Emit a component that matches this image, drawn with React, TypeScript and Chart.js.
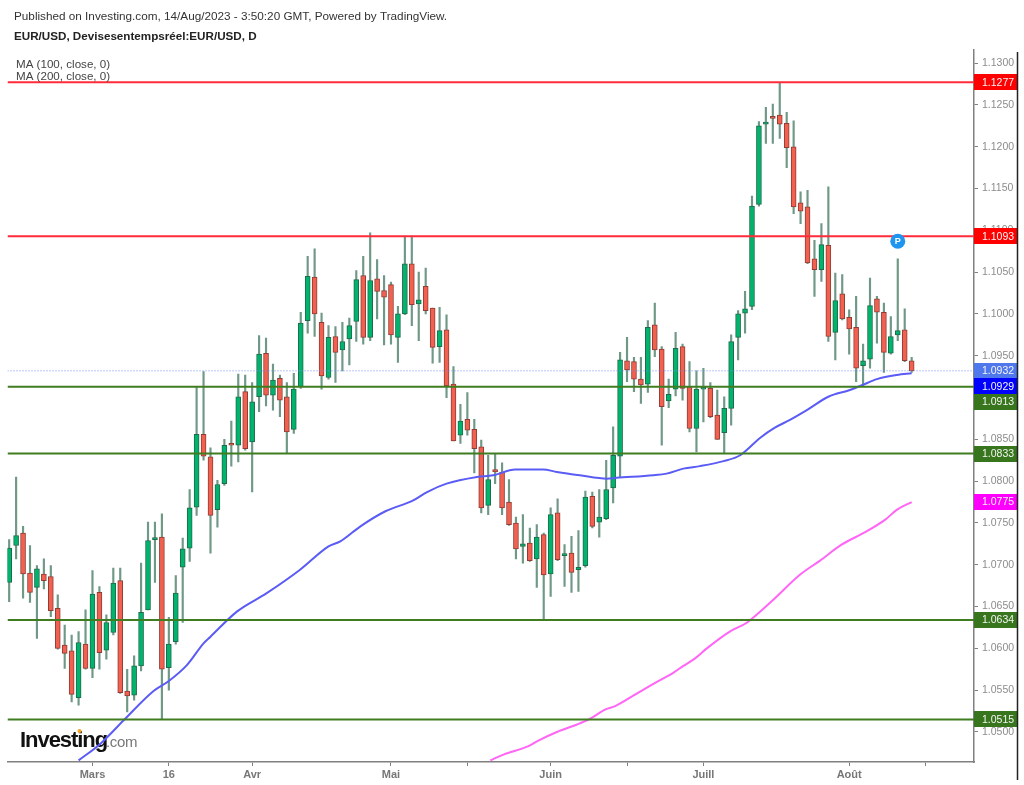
import React, { useEffect, useRef } from "react";
import { Chart, registerables } from "chart.js";

Chart.register(...registerables);

const opens = [1.0679,1.0723,1.0738,1.0690,1.0673,1.0689,1.0686,1.0648,1.0604,1.0597,1.0541,1.0605,1.0576,1.0667,1.0598,1.0619,1.0681,1.0549,1.0544,1.0579,1.0646,1.0730,1.0733,1.0577,1.0608,1.0697,1.0720,1.0769,1.0856,1.0829,1.0766,1.0797,1.0844,1.0843,1.0907,1.0847,1.0901,1.0953,1.0903,1.0923,1.0901,1.0862,1.0913,1.0992,1.1044,1.0990,1.0924,1.0973,1.0957,1.0970,1.0991,1.1046,1.0972,1.1042,1.1028,1.1035,1.0972,1.1000,1.1060,1.1012,1.1033,1.1007,1.0961,1.0981,1.0916,1.0855,1.0874,1.0862,1.0841,1.0771,1.0814,1.0811,1.0775,1.0750,1.0722,1.0726,1.0707,1.0736,1.0689,1.0762,1.0711,1.0714,1.0694,1.0699,1.0782,1.0751,1.0755,1.0792,1.0830,1.0944,1.0943,1.0922,1.0916,1.0987,1.0958,1.0896,1.0910,1.0961,1.0913,1.0863,1.0910,1.0911,1.0879,1.0858,1.0887,1.0972,1.1001,1.1009,1.1131,1.1227,1.1236,1.1238,1.1228,1.1200,1.1133,1.1128,1.1066,1.1053,1.1082,1.0978,1.1024,1.0996,1.0984,1.0938,1.0946,1.1018,1.1002,1.0953,1.0975,1.0981,1.0944];
const highs = [1.0730,1.0805,1.0746,1.0723,1.0699,1.0707,1.0699,1.0664,1.0628,1.0616,1.0620,1.0646,1.0693,1.0674,1.0640,1.0696,1.0696,1.0575,1.0591,1.0702,1.0751,1.0751,1.0761,1.0637,1.0687,1.0732,1.0790,1.0913,1.0931,1.0840,1.0801,1.0850,1.0872,1.0928,1.0927,1.0918,1.0974,1.0971,1.0940,1.0927,1.0918,1.0929,1.1002,1.1069,1.1078,1.1001,1.0986,1.0985,1.0990,1.0995,1.1052,1.1069,1.1097,1.1065,1.1046,1.1038,1.1009,1.1093,1.1093,1.1050,1.1055,1.1007,1.1008,1.0999,1.0937,1.0892,1.0906,1.0874,1.0849,1.0831,1.0832,1.0822,1.0802,1.0757,1.0760,1.0744,1.0748,1.0738,1.0768,1.0779,1.0724,1.0734,1.0741,1.0788,1.0787,1.0790,1.0825,1.0865,1.0954,1.0972,1.0948,1.0948,1.0992,1.1013,1.0961,1.0922,1.0978,1.0964,1.0943,1.0932,1.0935,1.0918,1.0909,1.0901,1.0975,1.1004,1.1027,1.1141,1.1230,1.1247,1.1251,1.1277,1.1241,1.1231,1.1146,1.1148,1.1088,1.1108,1.1152,1.1049,1.1047,1.1005,1.1021,1.0964,1.1043,1.1021,1.1013,1.0997,1.1066,1.1006,1.0948];
const lows = [1.0656,1.0707,1.0660,1.0655,1.0612,1.0671,1.0638,1.0599,1.0576,1.0536,1.0532,1.0575,1.0565,1.0575,1.0587,1.0616,1.0546,1.0524,1.0538,1.0573,1.0646,1.0679,1.0515,1.0550,1.0605,1.0631,1.0704,1.0759,1.0825,1.0714,1.0745,1.0795,1.0818,1.0823,1.0837,1.0787,1.0883,1.0890,1.0885,1.0877,1.0833,1.0857,1.0911,1.0977,1.0973,1.0910,1.0922,1.0918,1.0932,1.0939,1.0967,1.0964,1.0968,1.0994,1.0963,1.0964,1.0942,1.0999,1.0986,1.0968,1.1000,1.0941,1.0942,1.0900,1.0848,1.0845,1.0855,1.0810,1.0762,1.0760,1.0797,1.0760,1.0747,1.0707,1.0702,1.0704,1.0673,1.0635,1.0662,1.0705,1.0674,1.0667,1.0668,1.0697,1.0744,1.0733,1.0754,1.0774,1.0805,1.0919,1.0907,1.0893,1.0906,1.0949,1.0843,1.0888,1.0902,1.0897,1.0859,1.0835,1.0871,1.0876,1.0850,1.0833,1.0867,1.0945,1.0977,1.1005,1.1129,1.1204,1.1204,1.1210,1.1175,1.1120,1.1108,1.1060,1.1021,1.1039,1.0967,1.0945,1.0993,1.0952,1.0919,1.0914,1.0935,1.0965,1.0930,1.0952,1.0968,1.0943,1.0930];
const closes = [1.0720,1.0735,1.0689,1.0667,1.0695,1.0681,1.0645,1.0600,1.0594,1.0545,1.0607,1.0576,1.0665,1.0595,1.0631,1.0678,1.0547,1.0543,1.0579,1.0643,1.0729,1.0732,1.0575,1.0605,1.0666,1.0719,1.0768,1.0856,1.0830,1.0759,1.0796,1.0843,1.0843,1.0901,1.0839,1.0895,1.0952,1.0903,1.0921,1.0897,1.0859,1.0910,1.0989,1.1045,1.1000,1.0926,1.0972,1.0954,1.0967,1.0986,1.1041,1.0972,1.1040,1.1027,1.1020,1.0975,1.1000,1.1060,1.1011,1.1017,1.1004,1.0960,1.0980,1.0914,1.0848,1.0872,1.0861,1.0839,1.0768,1.0802,1.0811,1.0768,1.0748,1.0719,1.0725,1.0705,1.0733,1.0688,1.0760,1.0706,1.0712,1.0691,1.0697,1.0781,1.0746,1.0757,1.0790,1.0831,1.0945,1.0933,1.0922,1.0915,1.0984,1.0957,1.0889,1.0904,1.0959,1.0911,1.0863,1.0910,1.0911,1.0877,1.0850,1.0887,1.0967,1.1000,1.1006,1.1129,1.1225,1.1228,1.1234,1.1227,1.1199,1.1128,1.1123,1.1061,1.1053,1.1083,1.0973,1.1016,1.0994,1.0982,1.0935,1.0944,1.1010,1.1002,1.0954,1.0973,1.0980,1.0944,1.0932];

const ma100Index = [10,13.15,16.5,20.8,23,25.6,28,29,32.8,37.1,41.9,46,47.7,50.6,54.2,58.2,60.2,63,67.4,69.7,72.9,76.9,78.9,82.2,86.1,87.5,92.8,94.7,97.1,99.5,102.9,105.3,108.2,110.3,112.4,114.9,118,121.1,122.9,125,127.9,130];
const ma100Values = [1.0466,1.0486,1.0514,1.0549,1.0561,1.0580,1.0606,1.0614,1.0644,1.0666,1.0694,1.0722,1.0728,1.0746,1.0764,1.0777,1.0787,1.0797,1.0805,1.0807,1.0814,1.0814,1.0811,1.0807,1.0803,1.0804,1.0807,1.0809,1.0815,1.0818,1.0824,1.0831,1.0852,1.0864,1.0873,1.0885,1.0901,1.0909,1.0915,1.0922,1.0927,1.0929];
const ma200Index = [69.3,71.2,74.8,76.3,78.9,81.8,83.7,85.9,87.3,90.4,93.3,95.7,97.1,98.8,100.5,103.8,106.3,108.6,110.3,113.9,116.8,119.9,123.3,126.2,127.9,130];
const ma200Values = [1.0466,1.0473,1.0483,1.0490,1.0500,1.0509,1.0516,1.0527,1.0531,1.0546,1.0560,1.0571,1.0579,1.0588,1.0600,1.0620,1.0631,1.0647,1.0660,1.0688,1.0705,1.0724,1.0739,1.0754,1.0766,1.0775];

const redLevels = [1.1277, 1.1093];
const greenLevels = [1.0913, 1.0833, 1.0634, 1.0515];
const lastPrice = 1.0932;
const ma100Last = 1.0929;
const ma200Last = 1.0775;

const pivotIndex = 128;
const pivotPrice = 1.1087;

const priceTicks = [1.05,1.055,1.06,1.065,1.07,1.075,1.08,1.085,1.09,1.095,1.1,1.105,1.11,1.115,1.12,1.125,1.13];
const timeTicks = [12,23,35,55,66,78,89,100,121,132];
const timeLabels = ["Mars","16","Avr","Mai","","Juin","","Juill","Août",""];

const xMin = -0.24;
const xMax = 138.98;
const yMin = 1.04641;
const yMax = 1.13157;

const FONT = '"Liberation Sans", Arial, sans-serif';

const overlay = {
  id: "overlay",
  beforeDatasetsDraw(chart: any) {
    const c = chart.ctx;
    c.save();
    c.textBaseline = "alphabetic";
    c.textAlign = "left";
    c.fillStyle = "#111";
    c.font = `bold 22px ${FONT}`;
    (c as any).letterSpacing = "-1.05px";
    c.fillText("Investing", 20, 747);
    c.fillStyle = "#777";
    c.font = `15px ${FONT}`;
    (c as any).letterSpacing = "-0.3px";
    c.fillText(".com", 106, 747);
    (c as any).letterSpacing = "0px";
    c.fillStyle = "#f5a623";
    c.beginPath();
    c.arc(79.5, 731, 2, 0, Math.PI * 2);
    c.fill();
    c.restore();
  },
  afterDraw(chart: any) {
    const c = chart.ctx;
    const y = chart.scales.y;
    c.save();
    c.textBaseline = "alphabetic";
    c.textAlign = "left";
    c.fillStyle = "#333";
    c.font = `11.74px ${FONT}`;
    c.fillText("Published on Investing.com, 14/Aug/2023 - 3:50:20 GMT, Powered by TradingView.", 14, 20);
    c.fillStyle = "#222";
    c.font = `bold 11.65px ${FONT}`;
    c.fillText("EUR/USD, Devisesentempsréel:EUR/USD, D", 14, 40);
    c.fillStyle = "#444";
    c.font = `11.6px ${FONT}`;
    c.fillText("MA (100, close, 0)", 16, 68);
    c.fillText("MA (200, close, 0)", 16, 80);

    const tags: [number, string, number][] = [
      [redLevels[0], "#ff0000", 0],
      [redLevels[1], "#ff0000", 0],
      [lastPrice, "#4f78ec", 0],
      [ma100Last, "#0000ff", 13],
      [greenLevels[0], "#38761d", 15],
      [greenLevels[1], "#38761d", 0],
      [ma200Last, "#ff00ff", 0],
      [greenLevels[2], "#38761d", 0],
      [greenLevels[3], "#38761d", 0],
    ];
    c.font = `10.5px ${FONT}`;
    c.textBaseline = "middle";
    tags.forEach(([v, col, dy]) => {
      const py = y.getPixelForValue(v) + dy;
      c.fillStyle = col;
      c.fillRect(974, Math.round(py - 8), 43, 16);
      c.fillStyle = "#f4f4f4";
      c.fillText(v.toFixed(4), 982, py + 0.5);
    });

    c.strokeStyle = "#222";
    c.lineWidth = 1.5;
    c.beginPath();
    c.moveTo(1017.5, 52);
    c.lineTo(1017.5, 780);
    c.stroke();

    const px = chart.scales.x.getPixelForValue(pivotIndex);
    const pyp = y.getPixelForValue(pivotPrice);
    c.fillStyle = "#fff";
    c.font = `bold 9px ${FONT}`;
    c.textAlign = "center";
    c.fillText("P", px, pyp + 0.5);
    c.restore();
  },
};

export default function App() {
  const ref = useRef<HTMLCanvasElement>(null);
  useEffect(() => {
    const idx = opens.map((_, i) => i);
    const isUp = (i: number) => closes[i] >= opens[i];
    const hLine = (v: number, color: string, order: number, width = 2, dash: number[] = []) => ({
      type: "line",
      data: [{ x: xMin, y: v }, { x: xMax, y: v }],
      borderColor: color,
      borderWidth: width,
      borderDash: dash,
      pointRadius: 0,
      order,
    });
    const chart = new Chart(ref.current as HTMLCanvasElement, {
      type: "bar",
      data: {
        datasets: [
          {
            type: "bar",
            data: idx.map((i) => ({ x: i, y: [lows[i], highs[i]] })),
            backgroundColor: "#6f9886",
            borderWidth: 0,
            barThickness: 1.5,
            grouped: false,
            order: 6,
          },
          {
            type: "bar",
            data: idx.map((i) => ({ x: i, y: [opens[i], closes[i]] })),
            backgroundColor: idx.map((i) => (isUp(i) ? "#00b46e" : "#f2604f")),
            borderColor: idx.map((i) => (isUp(i) ? "#1f6a4a" : "#8e3d35")),
            borderWidth: 1,
            borderSkipped: false,
            barThickness: 5,
            minBarLength: 2,
            grouped: false,
            order: 5,
          },
          hLine(lastPrice, "#6f8ff5", 4, 1, [1, 2]),
          {
            type: "line",
            data: ma100Index.map((x, i) => ({ x, y: ma100Values[i] })),
            borderColor: "#5a5cf5",
            borderWidth: 2,
            pointRadius: 0,
            cubicInterpolationMode: "monotone",
            order: 3,
          },
          {
            type: "line",
            data: ma200Index.map((x, i) => ({ x, y: ma200Values[i] })),
            borderColor: "#ff66f5",
            borderWidth: 2,
            pointRadius: 0,
            cubicInterpolationMode: "monotone",
            order: 3,
          },
          ...redLevels.map((v) => hLine(v, "#ff2b3a", 2)),
          ...greenLevels.map((v) => hLine(v, "#3f7d20", 2)),
          {
            type: "line",
            data: [{ x: pivotIndex, y: pivotPrice }],
            showLine: false,
            pointRadius: 7.5,
            pointBackgroundColor: "#1e96f0",
            pointBorderWidth: 0,
            order: 1,
          },
        ],
      } as any,
      options: {
        responsive: false,
        animation: false,
        devicePixelRatio: 1,
        layout: { padding: { left: 7, top: 50, right: 0, bottom: 0 } },
        plugins: { legend: { display: false }, tooltip: { enabled: false } },
        events: [],
        scales: {
          x: {
            type: "linear",
            offset: false,
            min: xMin,
            max: xMax,
            grid: { offset: false, drawOnChartArea: false, tickLength: 4, tickColor: "#808080" },
            border: { color: "#808080", width: 1.5 },
            afterBuildTicks: (s: any) => {
              s.ticks = timeTicks.map((value) => ({ value }));
            },
            afterFit: (s: any) => {
              s.height = 23;
            },
            ticks: {
              autoSkip: false,
              maxRotation: 0,
              padding: 2,
              color: "#777",
              font: { family: FONT, size: 11, weight: "bold" },
              callback: (v: any) => timeLabels[timeTicks.indexOf(v)] ?? "",
            },
          },
          y: {
            type: "linear",
            position: "right",
            min: yMin,
            max: yMax,
            grid: { drawOnChartArea: false, tickLength: 4, tickColor: "#808080" },
            border: { color: "#808080", width: 1.5 },
            afterBuildTicks: (s: any) => {
              s.ticks = priceTicks.map((value) => ({ value }));
            },
            afterFit: (s: any) => {
              s.width = 50;
            },
            ticks: {
              autoSkip: false,
              padding: 4,
              color: "#8c8c8c",
              font: { family: FONT, size: 10.5 },
              callback: (v: any) => Number(v).toFixed(4),
            },
          },
        },
      } as any,
      plugins: [overlay],
    });
    return () => chart.destroy();
  }, []);
  return (
    <div style={{ position: "absolute", left: 0, top: 0, width: 1024, height: 785, background: "#fff" }}>
      <canvas ref={ref} width={1024} height={785} style={{ display: "block" }} />
    </div>
  );
}
